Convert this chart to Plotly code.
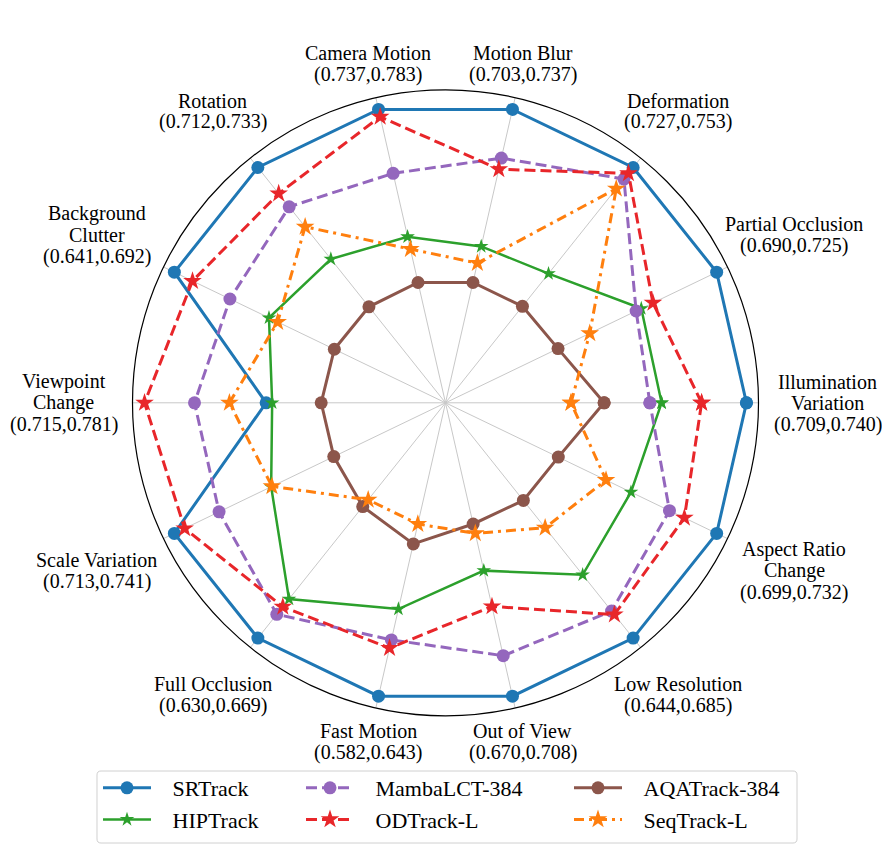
import math
import plotly.graph_objects as go

# page has an 8px body margin around the plot div
PAGE_W, PAGE_H, OFF = 890, 868, 8
W, H = PAGE_W - 2 * OFF, PAGE_H - 2 * OFF

categories = ["Illumination Variation", "Partial Occlusion", "Deformation", "Motion Blur",
              "Camera Motion", "Rotation", "Background Clutter", "Viewpoint Change",
              "Scale Variation", "Full Occlusion", "Fast Motion", "Out of View",
              "Low Resolution", "Aspect Ratio Change"]
label_lines = [["Illumination", "Variation"], ["Partial Occlusion"], ["Deformation"], ["Motion Blur"],
               ["Camera Motion"], ["Rotation"], ["Background", "Clutter"], ["Viewpoint", "Change"],
               ["Scale Variation"], ["Full Occlusion"], ["Fast Motion"], ["Out of View"],
               ["Low Resolution"], ["Aspect Ratio", "Change"]]
range_min = [0.709, 0.690, 0.727, 0.703, 0.737, 0.712, 0.641, 0.715, 0.713, 0.630, 0.582, 0.670, 0.644, 0.699]
range_max = [0.740, 0.725, 0.753, 0.737, 0.783, 0.733, 0.692, 0.781, 0.741, 0.669, 0.643, 0.708, 0.685, 0.732]

# normalised scores
srtrack = [1.0, 1.0, 1.0, 1.0, 1.0, 1.0, 1.0, 0.596, 1.0, 1.0, 1.0, 1.0, 1.0, 1.0]
hiptrack = [0.718, 0.722, 0.549, 0.533, 0.566, 0.611, 0.651, 0.576, 0.643, 0.834, 0.703, 0.572, 0.731, 0.684]
mambalct = [0.679, 0.703, 0.951, 0.834, 0.782, 0.833, 0.795, 0.834, 0.835, 0.899, 0.808, 0.862, 0.885, 0.826]
odtrack = [0.851, 0.765, 0.975, 0.796, 0.975, 0.889, 0.933, 1.0, 0.962, 0.867, 0.836, 0.694, 0.900, 0.881]
aqatrack = [0.527, 0.415, 0.410, 0.410, 0.410, 0.408, 0.410, 0.413, 0.412, 0.441, 0.481, 0.413, 0.415, 0.416]
seqtrack = [0.417, 0.532, 0.910, 0.476, 0.524, 0.748, 0.619, 0.718, 0.640, 0.412, 0.413, 0.445, 0.531, 0.592]

series = [
    # name, values, color, dash, symbol, marker size, line width, legend
    ("SRTrack", srtrack, "#1f77b4", "solid", "circle", 13, 3, "legend"),
    ("HIPTrack", hiptrack, "#2ca02c", "solid", "star", 11, 2.5, "legend"),
    ("MambaLCT-384", mambalct, "#9467bd", "11px,5px", "circle", 13, 3, "legend2"),
    ("ODTrack-L", odtrack, "#e8262a", "11px,5px", "star", 14, 3, "legend2"),
    ("AQATrack-384", aqatrack, "#8c564b", "solid", "circle", 13, 3, "legend3"),
    ("SeqTrack-L", seqtrack, "#ff7f0e", "10px,5px,3px,5px", "star", 14, 3, "legend3"),
]

FONT = "Liberation Serif"
NBSP = "\u00a0"

fig = go.Figure()
for name, vals, color, dash, sym, msize, lw, leg in series:
    fig.add_trace(go.Scatterpolar(
        r=vals + vals[:1],
        theta=categories + categories[:1],
        mode="lines+markers",
        name=NBSP * 3 + name,
        legend=leg,
        line=dict(color=color, width=lw, dash=dash),
        marker=dict(symbol=sym, size=msize, color=color, line=dict(width=0)),
    ))

# polar area (page pixels): circle centre and radius
CX, CY, R = 445.5, 402.8, 313
cx, cy = CX - OFF, CY - OFF

annotations = []
LINE_H = 21.3
n_cat = len(categories)
for i, (lines, lo, hi) in enumerate(zip(label_lines, range_min, range_max)):
    ang = 2 * math.pi * i / n_cat
    c = abs(math.cos(ang))
    if c < 0.4:
        d = 348
    elif c < 0.8:
        d = 373
    elif c < 0.95:
        d = 387
    else:
        d = 382
    px = cx + d * math.cos(ang)
    py = cy - d * math.sin(ang)
    all_lines = lines + [f"({lo:.3f},{hi:.3f})"]
    n = len(all_lines)
    for k, txt in enumerate(all_lines):
        ly = py + (k - (n - 1) / 2) * LINE_H
        annotations.append(dict(
            x=px / W, y=1 - ly / H, xref="paper", yref="paper",
            text=txt, showarrow=False, xanchor="center", yanchor="middle",
            font=dict(family=FONT, size=20, color="black"),
        ))

# legend frame with rounded corners (page pixels -> paper)
bx0, bx1, by0, by1, rr = 97 - OFF, 797 - OFF, 771 - OFF, 843 - OFF, 4
def P(x, y):
    return f"{x / W:.5f},{1 - y / H:.5f}"
frame_path = (f"M{P(bx0 + rr, by0)} L{P(bx1 - rr, by0)} Q{P(bx1, by0)} {P(bx1, by0 + rr)} "
              f"L{P(bx1, by1 - rr)} Q{P(bx1, by1)} {P(bx1 - rr, by1)} "
              f"L{P(bx0 + rr, by1)} Q{P(bx0, by1)} {P(bx0, by1 - rr)} "
              f"L{P(bx0, by0 + rr)} Q{P(bx0, by0)} {P(bx0 + rr, by0)} Z")

leg_common = dict(yanchor="top", xanchor="left", orientation="v",
                  font=dict(family=FONT, size=22, color="black"),
                  bgcolor="rgba(0,0,0,0)", borderwidth=0, itemwidth=48, tracegroupgap=0)
leg_y = 1 - (767 - OFF) / H

fig.update_layout(
    width=W, height=H,
    margin=dict(l=0, r=0, t=0, b=0),
    paper_bgcolor="white",
    font=dict(family=FONT, color="black"),
    polar=dict(
        domain=dict(x=[(cx - R) / W, (cx + R) / W], y=[1 - (cy + R) / H, 1 - (cy - R) / H]),
        bgcolor="white",
        angularaxis=dict(
            type="category",
            categoryorder="array",
            categoryarray=categories,
            direction="counterclockwise",
            rotation=0,
            showticklabels=False,
            showline=True, linecolor="black", linewidth=1.2,
            showgrid=True, gridcolor="#c8c8c8", gridwidth=0.8,
            ticks="",
        ),
        radialaxis=dict(
            range=[0, 1.04],
            showticklabels=False, showgrid=False, showline=False, ticks="",
        ),
    ),
    legend=dict(x=(98 - OFF) / W, y=leg_y, **leg_common),
    legend2=dict(x=(301 - OFF) / W, y=leg_y, **leg_common),
    legend3=dict(x=(569 - OFF) / W, y=leg_y, **leg_common),
    annotations=annotations,
    shapes=[dict(type="path", xref="paper", yref="paper", path=frame_path,
                 line=dict(color="#d0d0d0", width=1), fillcolor="rgba(0,0,0,0)", layer="below")],
)

fig.write_html("out.html")
